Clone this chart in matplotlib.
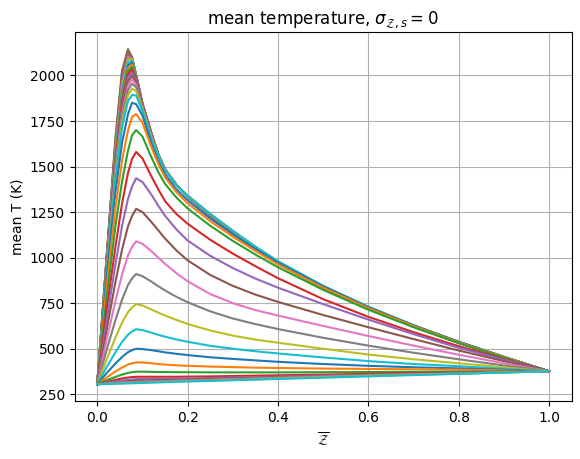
import matplotlib
matplotlib.use("Agg")
import matplotlib.pyplot as plt

z_nodes = [0.0, 0.02, 0.04, 0.055, 0.068, 0.077, 0.086, 0.1, 0.12, 0.135, 0.15,
           0.175, 0.2, 0.25, 0.3, 0.35, 0.4, 0.5, 0.6, 0.7, 0.8, 0.9, 1.0]

# mean temperature (K) per flamelet, hottest first
T_mean = [
    [305, 985, 1650, 2030, 2145, 2100, 2000, 1845, 1680, 1568, 1485, 1400, 1335, 1228, 1133, 1046, 966, 834, 721, 621, 532, 451, 376],
    [305, 980, 1640, 2020, 2140, 2098, 2000, 1845, 1680, 1568, 1485, 1400, 1335, 1229, 1134, 1047, 967, 835, 721, 621, 532, 451, 376],
    [305, 975, 1630, 2010, 2135, 2096, 2000, 1845, 1680, 1567, 1484, 1400, 1336, 1229, 1135, 1047, 967, 835, 722, 622, 533, 451, 376],
    [305, 970, 1620, 2000, 2129, 2095, 2000, 1845, 1680, 1567, 1484, 1400, 1336, 1230, 1135, 1048, 968, 836, 722, 622, 533, 452, 376],
    [305, 965, 1610, 1990, 2122, 2093, 2000, 1845, 1680, 1566, 1484, 1400, 1336, 1231, 1136, 1049, 969, 836, 723, 623, 533, 452, 376],
    [305, 960, 1600, 1980, 2114, 2090, 2000, 1845, 1680, 1566, 1483, 1399, 1336, 1231, 1137, 1050, 970, 837, 723, 623, 534, 452, 376],
    [305, 955, 1590, 1965, 2105, 2088, 2000, 1845, 1680, 1565, 1483, 1399, 1337, 1232, 1138, 1050, 970, 837, 724, 624, 534, 452, 376],
    [305, 950, 1580, 1950, 2095, 2085, 1998, 1845, 1680, 1565, 1482, 1399, 1337, 1232, 1139, 1051, 971, 838, 724, 624, 534, 452, 376],
    [305, 945, 1570, 1935, 2088, 2090, 1995, 1844, 1680, 1565, 1482, 1399, 1337, 1233, 1139, 1052, 972, 839, 725, 624, 535, 453, 376],
    [305, 940, 1560, 1920, 2070, 2082, 1995, 1843, 1680, 1564, 1482, 1399, 1337, 1234, 1140, 1053, 973, 839, 725, 625, 535, 453, 376],
    [305, 935, 1550, 1905, 2055, 2071, 1995, 1842, 1680, 1564, 1481, 1399, 1338, 1234, 1141, 1053, 973, 840, 726, 625, 535, 453, 376],
    [305, 930, 1540, 1890, 2040, 2059, 1990, 1840, 1678, 1563, 1481, 1399, 1338, 1235, 1142, 1054, 974, 840, 726, 626, 535, 453, 376],
    [305, 925, 1530, 1872, 2024, 2046, 1985, 1838, 1676, 1563, 1481, 1399, 1338, 1236, 1142, 1055, 975, 841, 727, 626, 536, 454, 376],
    [305, 920, 1518, 1855, 2007, 2032, 1980, 1836, 1674, 1563, 1480, 1399, 1338, 1236, 1143, 1056, 976, 842, 727, 626, 536, 454, 376],
    [305, 915, 1505, 1835, 1988, 2016, 1972, 1833, 1672, 1562, 1480, 1399, 1339, 1237, 1144, 1056, 976, 842, 728, 627, 536, 454, 376],
    [305, 910, 1492, 1815, 1968, 1998, 1962, 1830, 1669, 1562, 1479, 1398, 1339, 1237, 1145, 1057, 977, 843, 728, 627, 537, 454, 376],
    [305, 905, 1478, 1793, 1945, 1978, 1950, 1826, 1666, 1561, 1479, 1398, 1339, 1238, 1146, 1058, 978, 843, 729, 628, 537, 454, 376],
    [305, 900, 1463, 1770, 1920, 1955, 1936, 1821, 1662, 1561, 1479, 1398, 1339, 1239, 1146, 1059, 979, 844, 729, 628, 537, 455, 376],
    [305, 895, 1447, 1745, 1893, 1927, 1916, 1814, 1656, 1560, 1478, 1398, 1340, 1239, 1147, 1059, 979, 844, 730, 629, 538, 455, 376],
    [305, 888, 1430, 1718, 1860, 1893, 1890, 1805, 1648, 1560, 1478, 1398, 1340, 1240, 1148, 1060, 980, 845, 730, 629, 538, 455, 376],
    [305, 877, 1356, 1634, 1788, 1850, 1843, 1780, 1625, 1530, 1455, 1375, 1315, 1215, 1128, 1048, 972, 842, 728, 628, 538, 456, 376],
    [305, 824, 1269, 1536, 1699, 1773, 1788, 1740, 1605, 1515, 1440, 1360, 1298, 1200, 1115, 1037, 963, 835, 723, 624, 535, 454, 376],
    [305, 765, 1170, 1421, 1588, 1672, 1700, 1665, 1550, 1470, 1405, 1330, 1270, 1175, 1092, 1017, 947, 823, 714, 618, 531, 451, 376],
    [305, 700, 1057, 1300, 1465, 1542, 1580, 1545, 1445, 1375, 1310, 1240, 1186, 1098, 1022, 953, 887, 772, 675, 591, 514, 444, 376],
    [305, 644, 961, 1176, 1323, 1391, 1436, 1415, 1345, 1285, 1230, 1155, 1094, 1010, 943, 885, 835, 745, 660, 580, 505, 440, 376],
    [305, 594, 864, 1046, 1172, 1229, 1268, 1250, 1195, 1150, 1105, 1040, 985, 905, 845, 797, 757, 685, 618, 553, 490, 432, 376],
    [305, 541, 760, 909, 1012, 1059, 1090, 1076, 1035, 1000, 966, 915, 870, 800, 750, 712, 682, 625, 570, 517, 467, 420, 376],
    [305, 487, 656, 771, 850, 886, 910, 898, 868, 843, 820, 785, 755, 705, 666, 635, 608, 560, 517, 478, 442, 408, 376],
    [305, 437, 560, 644, 701, 727, 745, 737, 715, 698, 682, 658, 636, 600, 572, 550, 533, 500, 468, 442, 420, 398, 376],
    [305, 396, 480, 538, 577, 595, 607, 602, 588, 576, 566, 551, 538, 516, 500, 486, 474, 452, 432, 416, 404, 390, 376],
    [305, 364, 418, 455, 481, 492, 500, 498, 492, 486, 480, 472, 465, 453, 444, 436, 428, 416, 406, 398, 392, 384, 376],
    [305, 341, 375, 397, 413, 420, 425, 424, 420, 416, 413, 409, 406, 402, 399, 396, 394, 391, 389, 387, 385, 381, 376],
    [305, 326, 345, 358, 367, 371, 374, 374, 373, 372, 372, 371, 371, 370, 370, 370, 370, 371, 372, 373, 374, 375, 376],
    [305, 317, 329, 337, 342, 344, 346, 346, 346, 346, 346, 346, 347, 348, 350, 352, 354, 358, 362, 366, 369, 373, 376],
    [305, 313, 321, 325, 329, 331, 333, 334, 334, 334, 335, 336, 337, 339, 342, 344, 347, 352, 357, 362, 367, 372, 376],
    [305, 311, 316, 319, 322, 323, 324, 325, 326, 327, 328, 329, 331, 334, 337, 340, 343, 349, 355, 360, 365, 371, 376],
    [305, 309, 313, 315, 316, 317, 318, 319, 320, 321, 322, 324, 326, 329, 333, 336, 340, 347, 353, 359, 364, 370, 376],
    [305, 308, 311, 312, 313, 314, 315, 316, 318, 319, 320, 322, 324, 327, 331, 334, 338, 345, 352, 358, 364, 370, 376],
    [305, 307, 309, 310, 311, 312, 313, 314, 316, 317, 318, 320, 322, 325, 329, 332, 336, 344, 351, 357, 363, 370, 376],
    [305, 306, 308, 309, 310, 310, 311, 312, 314, 315, 316, 318, 320, 323, 327, 330, 334, 341, 348, 355, 362, 369, 376],
]

fig = plt.figure(figsize=(5.8, 4.59), dpi=100)
ax = fig.add_axes([0.1288, 0.1264, 0.8567, 0.8032])

for T in T_mean:
    ax.plot(z_nodes, T)

ax.set_title(r'mean temperature, $\sigma_{\mathcal{Z},s}=0$')
ax.set_xlabel(r'$\overline{\mathcal{Z}}$')
ax.set_ylabel('mean T (K)')
ax.grid(True)

fig.savefig('out.png', dpi=100)
